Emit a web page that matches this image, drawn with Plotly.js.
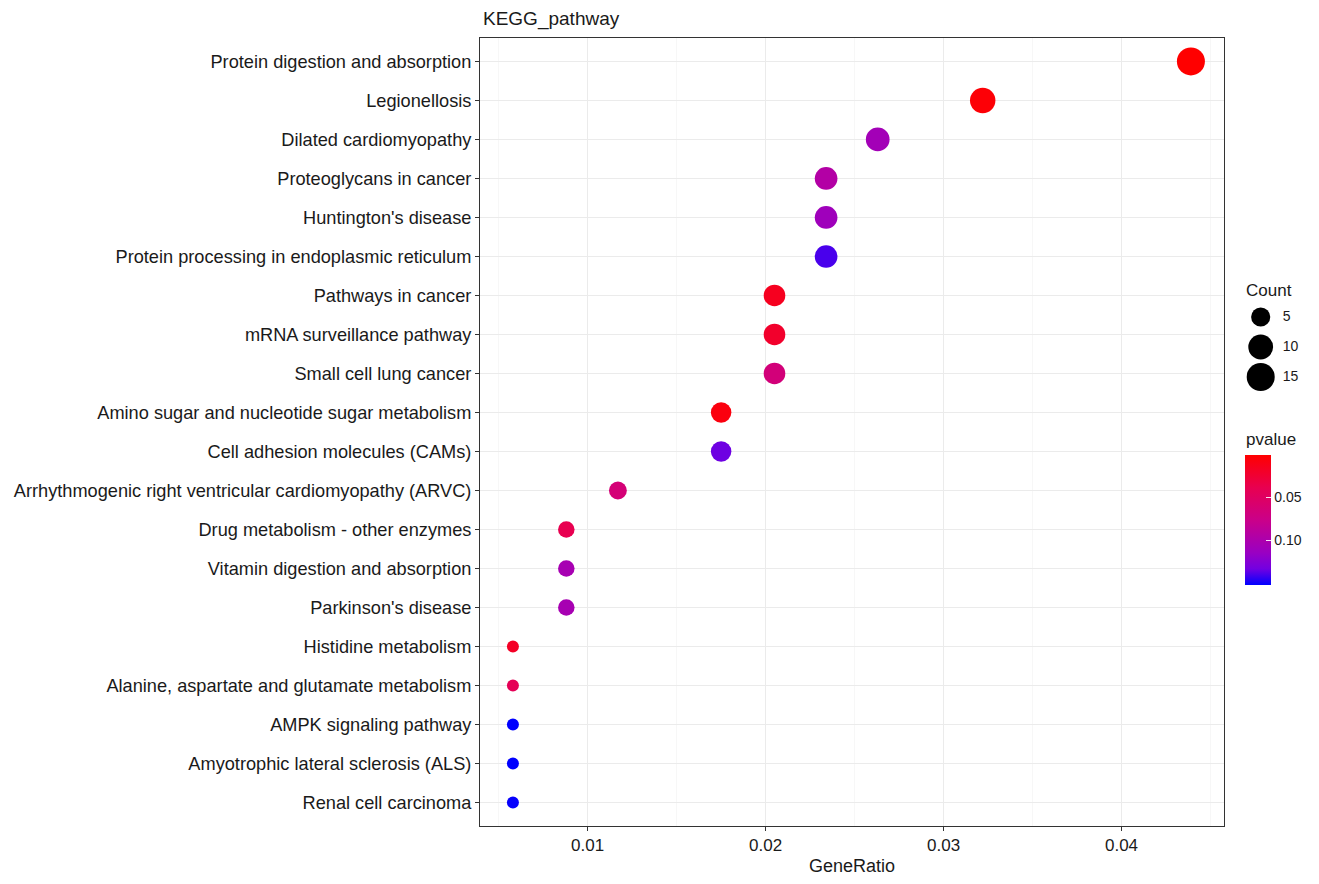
<!DOCTYPE html>
<html>
<head>
<meta charset="utf-8">
<script src="https://cdn.plot.ly/plotly-3.0.1.min.js"></script>
<style>html,body{margin:0;padding:0;background:#fff;}#chart{width:1319px;height:884px;}</style>
</head>
<body>
<div id="chart"></div>
<script>
// ---- data ----
const pathways = [
  "Protein digestion and absorption",
  "Legionellosis",
  "Dilated cardiomyopathy",
  "Proteoglycans in cancer",
  "Huntington's disease",
  "Protein processing in endoplasmic reticulum",
  "Pathways in cancer",
  "mRNA surveillance pathway",
  "Small cell lung cancer",
  "Amino sugar and nucleotide sugar metabolism",
  "Cell adhesion molecules (CAMs)",
  "Arrhythmogenic right ventricular cardiomyopathy (ARVC)",
  "Drug metabolism - other enzymes",
  "Vitamin digestion and absorption",
  "Parkinson's disease",
  "Histidine metabolism",
  "Alanine, aspartate and glutamate metabolism",
  "AMPK signaling pathway",
  "Amyotrophic lateral sclerosis (ALS)",
  "Renal cell carcinoma"
];
const geneRatio = [0.0439, 0.0322, 0.0263, 0.0234, 0.0234, 0.0234, 0.0205, 0.0205, 0.0205, 0.0175,
                   0.0175, 0.0117, 0.0088, 0.0088, 0.0088, 0.0058, 0.0058, 0.0058, 0.0058, 0.0058];
const counts    = [15, 11, 9, 8, 8, 8, 7, 7, 7, 6, 6, 4, 3, 3, 3, 2, 2, 2, 2, 2];
const pvalues   = [0.0012, 0.004, 0.107, 0.095, 0.110, 0.140, 0.016, 0.022, 0.066, 0.008,
                   0.134, 0.064, 0.039, 0.104, 0.104, 0.019, 0.043, 0.152, 0.152, 0.151];
const xTicks = [0.01, 0.02, 0.03, 0.04];
const xTickLabels = ["0.01", "0.02", "0.03", "0.04"];
const xMinorTicks = [0.005, 0.015, 0.025, 0.035, 0.045];
const countLegend = [5, 10, 15];
const pTicks = [0.05, 0.10];
const pTickLabels = ["0.05", "0.10"];

// ---- style scales ----
const sizeAnchors = [[2, 12], [3, 16.5], [6, 20.5], [10, 24.8], [15, 28]];
function sizeOf(c) {
  for (let i = 0; i < sizeAnchors.length - 1; i++) {
    const [c0, d0] = sizeAnchors[i], [c1, d1] = sizeAnchors[i + 1];
    if (c <= c1) return d0 + (d1 - d0) * (c - c0) / (c1 - c0);
  }
  return sizeAnchors[sizeAnchors.length - 1][1];
}
const pMin = 0.0012, pMax = 0.152;
// Lab-interpolated red->blue (ggplot style); colour value = -p so red (low p) sits on top of the bar
const cscale = [
  [0, "#0000FF"], [0.125, "#7300E1"], [0.25, "#9A00C2"], [0.5, "#CA0089"],
  [0.75, "#E80050"], [1, "#FF0000"]
];

const FONT = "Liberation Sans, Arial, Helvetica, sans-serif";
const TXT = "#1a1a1a";
const W = 1319, H = 884;
const L = 480, R = 10, T = 38, B = 58;
const pw = W - L - R, ph = H - T - B;
const plotRight = 1224;
const px2x = px => (px - L) / pw;          // page pixel -> paper x
const px2y = py => (H - B - py) / ph;      // page pixel -> paper y

const main = {
  type: "scatter", mode: "markers",
  x: geneRatio, y: pathways,
  xaxis: "x", yaxis: "y",
  marker: {
    size: counts.map(sizeOf), sizemode: "diameter",
    color: pvalues.map(p => -p), colorscale: cscale,
    cmin: -pMax, cmax: -pMin, line: {width: 0}, opacity: 1,
    showscale: true,
    colorbar: {
      xref: "paper", yref: "paper",
      x: px2x(1245), xanchor: "left",
      y: px2y(455), yanchor: "top",
      len: 130, lenmode: "pixels", thickness: 26, thicknessmode: "pixels",
      xpad: 0, ypad: 0, outlinewidth: 0,
      tickvals: pTicks.map(p => -p), ticktext: pTickLabels,
      ticks: "inside", ticklen: 5, tickcolor: "rgba(255,255,255,0.9)", tickwidth: 1,
      tickfont: {family: FONT, size: 14, color: TXT}
    }
  },
  hoverinfo: "x+y", showlegend: false
};

const legendDots = {
  type: "scatter", mode: "markers",
  x: countLegend.map(() => 0.3), y: countLegend.map(String),
  xaxis: "x2", yaxis: "y2",
  marker: {size: countLegend.map(sizeOf), color: "rgb(0,0,0)", opacity: 1, line: {width: 0}},
  hoverinfo: "skip", showlegend: false
};
const legendText = {
  type: "scatter", mode: "text",
  x: countLegend.map(() => 0.62), y: countLegend.map(String),
  text: countLegend.map(String), textposition: "middle right",
  textfont: {family: FONT, size: 14, color: TXT},
  xaxis: "x2", yaxis: "y2", hoverinfo: "skip", showlegend: false
};

const layout = {
  width: W, height: H,
  margin: {l: L, r: R, t: T, b: B, pad: 0, autoexpand: false},
  paper_bgcolor: "#fff", plot_bgcolor: "#fff",
  font: {family: FONT, color: TXT},
  title: {
    text: "KEGG_pathway", xref: "container", yref: "container",
    x: 483 / W, xanchor: "left", y: 1 - 18 / H, yanchor: "middle",
    font: {family: FONT, size: 19, color: TXT}
  },
  xaxis: {
    domain: [0, px2x(plotRight)],
    range: [0.00395, 0.04576], zeroline: false,
    tickvals: xTicks, ticktext: xTickLabels,
    showgrid: true, gridcolor: "#EBEBEB", gridwidth: 1.1,
    minor: {tickvals: xMinorTicks, showgrid: true, gridcolor: "#F2F2F2", gridwidth: 0.6, ticks: ""},
    ticks: "outside", ticklen: 4, tickcolor: "#333", tickwidth: 1,
    tickfont: {family: FONT, size: 17, color: TXT},
    showline: true, linecolor: "#333", linewidth: 1, mirror: true,
    title: {text: "GeneRatio", standoff: 4, font: {family: FONT, size: 18, color: TXT}},
    anchor: "y", fixedrange: true, automargin: false
  },
  yaxis: {
    type: "category", categoryorder: "array", categoryarray: pathways,
    range: [pathways.length - 0.4, -0.6],
    showgrid: true, gridcolor: "#EBEBEB", gridwidth: 1.1,
    ticks: "outside", ticklen: 4, tickcolor: "#333", tickwidth: 1,
    tickfont: {family: FONT, size: 18.2, color: TXT},
    showline: true, linecolor: "#333", linewidth: 1, mirror: true,
    zeroline: false, anchor: "x", fixedrange: true, automargin: false
  },
  xaxis2: {
    domain: [px2x(1240), px2x(1310)], range: [0, 1],
    visible: false, anchor: "y2", fixedrange: true
  },
  yaxis2: {
    domain: [px2y(392), px2y(302)],
    type: "category", categoryorder: "array", categoryarray: countLegend.map(String),
    range: [countLegend.length - 0.5, -0.5],
    visible: false, anchor: "x2", fixedrange: true
  },
  annotations: [{
    text: "Count", xref: "paper", yref: "paper",
    x: px2x(1244), y: px2y(290), xanchor: "left", yanchor: "middle",
    showarrow: false, font: {family: FONT, size: 17, color: TXT}
  }, {
    text: "pvalue", xref: "paper", yref: "paper",
    x: px2x(1244), y: px2y(439), xanchor: "left", yanchor: "middle",
    showarrow: false, font: {family: FONT, size: 17, color: TXT}
  }]
};

Plotly.newPlot("chart", [main, legendDots, legendText], layout, {displayModeBar: false, staticPlot: true});
</script>
</body>
</html>
